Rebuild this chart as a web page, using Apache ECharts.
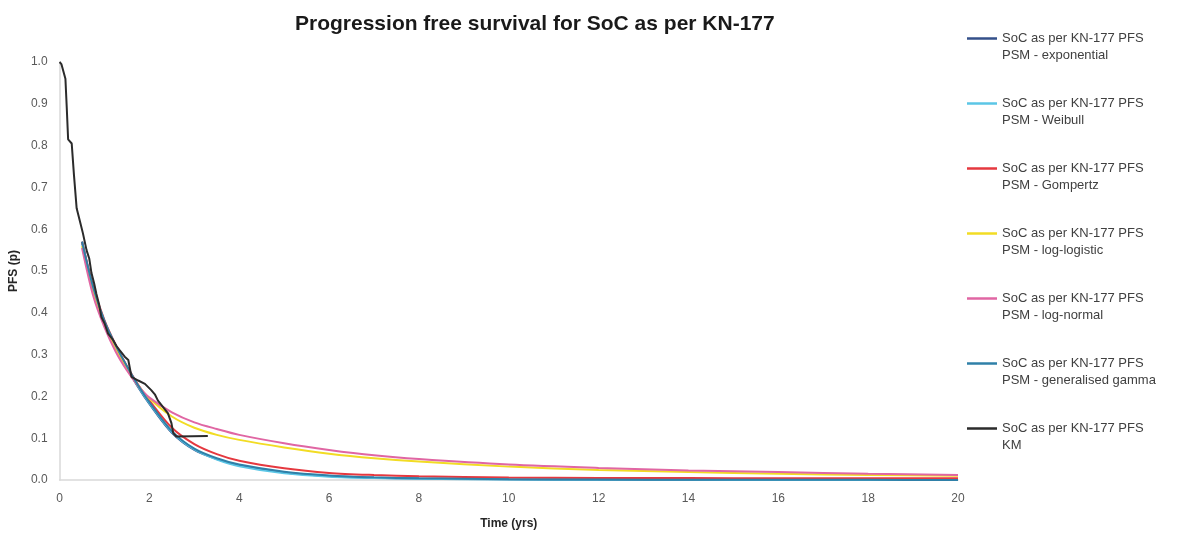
<!DOCTYPE html>
<html>
<head>
<meta charset="utf-8">
<script src="https://cdn.jsdelivr.net/npm/echarts@6/dist/echarts.min.js"></script>
<style>
  html, body { margin: 0; padding: 0; background: #fff; }
  #main { width: 1184px; height: 536px; }
</style>
</head>
<body>
<div id="main"></div>
<script>
// model curves (PSM), time in years
var modelTimes = [0.5, 0.75, 1, 1.25, 1.5, 1.75, 2, 2.5, 3, 3.5, 4, 5, 6, 7, 8, 10, 12, 14, 16, 18, 20];

var expVals      = [0.57, 0.455, 0.375, 0.318, 0.268, 0.222, 0.182, 0.113, 0.072, 0.05, 0.035, 0.018, 0.0095, 0.0055, 0.0035, 0.0015, 0.0007, 0.0004, 0.0002, 0.0001, 0.0001];
var weibullVals  = [0.57, 0.458, 0.378, 0.32, 0.27, 0.224, 0.184, 0.115, 0.073, 0.049, 0.033, 0.016, 0.008, 0.0045, 0.0028, 0.0012, 0.0005, 0.0003, 0.0002, 0.0001, 0.0001];
var gompertzVals = [0.57, 0.462, 0.382, 0.323, 0.272, 0.228, 0.19, 0.125, 0.086, 0.062, 0.046, 0.028, 0.017, 0.012, 0.009, 0.006, 0.005, 0.0045, 0.004, 0.004, 0.004];
var loglogVals   = [0.56, 0.45, 0.372, 0.312, 0.265, 0.226, 0.195, 0.152, 0.125, 0.108, 0.096, 0.078, 0.063, 0.052, 0.044, 0.032, 0.024, 0.019, 0.015, 0.012, 0.01];
var lognormVals  = [0.555, 0.44, 0.365, 0.307, 0.262, 0.225, 0.197, 0.162, 0.138, 0.122, 0.108, 0.088, 0.072, 0.059, 0.05, 0.037, 0.029, 0.023, 0.019, 0.015, 0.012];
var gengamVals   = [0.57, 0.46, 0.38, 0.322, 0.272, 0.226, 0.186, 0.117, 0.075, 0.052, 0.037, 0.02, 0.011, 0.0065, 0.004, 0.002, 0.001, 0.0006, 0.0004, 0.0003, 0.0002];

// Kaplan-Meier
var kmTimes = [0, 0.04, 0.13, 0.16, 0.19, 0.27, 0.32, 0.38, 0.45, 0.52, 0.6, 0.66, 0.71, 0.77, 0.82, 0.88, 0.93, 1.0, 1.08, 1.19, 1.27, 1.34, 1.45, 1.53, 1.6, 1.75, 1.9, 2.04, 2.12, 2.19, 2.3, 2.41, 2.49, 2.53, 2.6, 3.3];
var kmVals  = [1.0, 0.995, 0.96, 0.89, 0.815, 0.805, 0.73, 0.65, 0.62, 0.59, 0.55, 0.53, 0.495, 0.47, 0.445, 0.42, 0.39, 0.375, 0.35, 0.335, 0.32, 0.31, 0.295, 0.287, 0.247, 0.238, 0.23, 0.215, 0.205, 0.19, 0.175, 0.16, 0.136, 0.112, 0.104, 0.105];

var seriesNames = [
    'SoC as per KN-177 PFS PSM - exponential',
    'SoC as per KN-177 PFS PSM - Weibull',
    'SoC as per KN-177 PFS PSM - Gompertz',
    'SoC as per KN-177 PFS PSM - log-logistic',
    'SoC as per KN-177 PFS PSM - log-normal',
    'SoC as per KN-177 PFS PSM - generalised gamma',
    'SoC as per KN-177 PFS KM'
];
var colors = ['#34508a', '#5bc6e6', '#e5383f', '#f2dc24', '#e066a3', '#2f80a8', '#2b2b2b'];

function pairs(xs, ys) {
    return xs.map(function (x, i) { return [x, ys[i]]; });
}

function modelSeries(name, vals) {
    return {
        name: name,
        type: 'line',
        data: pairs(modelTimes, vals),
        showSymbol: false,
        smooth: 0.3,
        lineStyle: { width: 2 }
    };
}

var chart = echarts.init(document.getElementById('main'));

var option = {
    animation: false,
    color: colors,
    title: {
        text: 'Progression free survival for SoC as per KN-177',
        left: 290,
        top: 9,
        textStyle: {
            fontFamily: 'Liberation Sans',
            fontSize: 21,
            fontWeight: 'bold',
            color: '#1a1a1a'
        }
    },
    legend: {
        orient: 'vertical',
        left: 967,
        top: 13,
        padding: 0,
        itemGap: 14,
        itemWidth: 30,
        itemHeight: 2.5,
        icon: 'rect',
        data: seriesNames,
        formatter: function (name) {
            var cut = name.indexOf(' PFS ') + 4;
            return '\n' + name.slice(0, cut) + '\n' + name.slice(cut + 1);
        },
        textStyle: {
            fontFamily: 'Liberation Sans',
            fontSize: 13,
            lineHeight: 17,
            color: '#404040'
        }
    },
    grid: {
        left: 58,
        right: 226,
        top: 62,
        bottom: 56
    },
    xAxis: {
        type: 'value',
        min: 0,
        max: 20,
        interval: 2,
        name: 'Time (yrs)',
        nameLocation: 'middle',
        nameGap: 38,
        nameTextStyle: {
            fontFamily: 'Liberation Sans',
            fontSize: 12,
            fontWeight: 'bold',
            color: '#262626'
        },
        axisLine: { lineStyle: { color: '#d9d9d9', width: 1.5 } },
        axisTick: { show: false },
        splitLine: { show: false },
        axisLabel: {
            margin: 13,
            fontFamily: 'Liberation Sans',
            fontSize: 12,
            color: '#595959'
        }
    },
    yAxis: {
        type: 'value',
        min: 0,
        max: 1,
        interval: 0.1,
        name: 'PFS (p)',
        nameLocation: 'middle',
        nameGap: 32,
        nameRotate: 90,
        nameTextStyle: {
            fontFamily: 'Liberation Sans',
            fontSize: 12,
            fontWeight: 'bold',
            color: '#262626'
        },
        axisLine: { show: true, lineStyle: { color: '#d9d9d9', width: 1.5 } },
        axisTick: { show: false },
        splitLine: { show: false },
        axisLabel: {
            margin: 12,
            fontFamily: 'Liberation Sans',
            fontSize: 12,
            color: '#595959',
            formatter: function (v) { return v.toFixed(1); }
        }
    },
    series: [
        modelSeries(seriesNames[0], expVals),
        modelSeries(seriesNames[1], weibullVals),
        modelSeries(seriesNames[2], gompertzVals),
        modelSeries(seriesNames[3], loglogVals),
        modelSeries(seriesNames[4], lognormVals),
        modelSeries(seriesNames[5], gengamVals),
        {
            name: seriesNames[6],
            type: 'line',
            data: pairs(kmTimes, kmVals),
            showSymbol: false,
            lineStyle: { width: 2 },
            z: 5
        }
    ]
};

chart.setOption(option);
</script>
</body>
</html>
